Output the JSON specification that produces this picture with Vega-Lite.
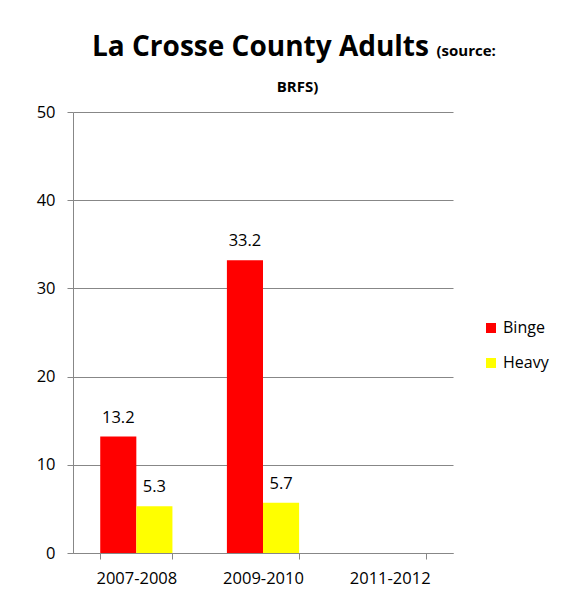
{
  "$schema": "https://vega.github.io/schema/vega-lite/v6.json",
  "width": 380,
  "height": 441,
  "autosize": {"type": "none"},
  "padding": {"left": 73, "top": 112, "right": 108, "bottom": 42},
  "background": "white",
  "config": {
    "font": "Open Sans",
    "view": {"stroke": null}
  },
  "title": {
    "text": "La Crosse County Adults",
    "font": "Open Sans",
    "fontSize": 28,
    "fontWeight": "bold",
    "color": "#000000",
    "anchor": "start",
    "frame": "group",
    "dx": 19,
    "dy": 19,
    "offset": 0
  },
  "data": {
    "values": [
      {"period": "2007-2008", "series": "Binge", "value": 13.2},
      {"period": "2007-2008", "series": "Heavy", "value": 5.3},
      {"period": "2009-2010", "series": "Binge", "value": 33.2},
      {"period": "2009-2010", "series": "Heavy", "value": 5.7}
    ]
  },
  "encoding": {
    "x": {
      "field": "period",
      "type": "nominal",
      "scale": {"domain": ["2007-2008", "2009-2010", "2011-2012"], "paddingInner": 0.43, "paddingOuter": 0.215}
    },
    "xOffset": {"field": "series", "type": "nominal", "scale": {"domain": ["Binge", "Heavy"], "paddingInner": 0, "paddingOuter": 0}},
    "y": {"field": "value", "type": "quantitative", "scale": {"domain": [0, 50], "nice": false}}
  },
  "layer": [
    {
      "mark": {"type": "bar"},
      "encoding": {
        "x": {
          "field": "period",
          "type": "nominal",
          "scale": {"domain": ["2007-2008", "2009-2010", "2011-2012"], "paddingInner": 0.43, "paddingOuter": 0.215},
          "axis": {
            "title": null,
            "orient": "bottom",
            "labelAngle": 0,
            "labelFont": "Open Sans",
            "labelFontSize": 16.5,
            "labelColor": "#000000",
            "labelPadding": 11,
            "domainColor": "#878787",
            "domainWidth": 1,
            "tickColor": "#878787",
            "tickSize": 6,
            "tickBand": "extent",
            "grid": false
          }
        },
        "y": {
          "field": "value",
          "type": "quantitative",
          "scale": {"domain": [0, 50], "nice": false},
          "axis": {
            "title": null,
            "values": [0, 10, 20, 30, 40, 50],
            "labelFont": "Open Sans",
            "labelFontSize": 16.5,
            "labelColor": "#000000",
            "labelPadding": 12,
            "domainColor": "#878787",
            "domainWidth": 1,
            "tickColor": "#878787",
            "tickSize": 6,
            "grid": true,
            "gridColor": "#878787",
            "gridWidth": 1
          }
        },
        "color": {
          "field": "series",
          "type": "nominal",
          "scale": {"domain": ["Binge", "Heavy"], "range": ["#FF0000", "#FFFF00"]},
          "legend": {
            "title": null,
            "orient": "none",
            "legendX": 410,
            "legendY": 208,
            "symbolType": "square",
            "symbolSize": 100,
            "symbolStrokeWidth": 0,
            "labelFont": "Open Sans",
            "labelFontSize": 16,
            "labelColor": "#000000",
            "labelOffset": 4,
            "rowPadding": 19
          }
        }
      }
    },
    {
      "mark": {"type": "text", "baseline": "alphabetic", "dy": -14, "fontSize": 16.5, "font": "Open Sans", "color": "#000000"},
      "encoding": {
        "text": {"field": "value", "type": "quantitative", "format": ".1f"},
        "x": {
          "field": "period",
          "type": "nominal",
          "axis": {
            "orient": "top",
            "title": "BRFS)",
            "labels": false,
            "ticks": false,
            "domain": false,
            "grid": false,
            "titleFont": "Open Sans",
            "titleFontSize": 15,
            "titleFontWeight": "bold",
            "titleColor": "#000000",
            "titleX": 224,
            "titleY": -21,
            "titleAlign": "center",
            "titleBaseline": "alphabetic"
          }
        },
        "y": {
          "field": "value",
          "type": "quantitative",
          "axis": {
            "orient": "right",
            "title": "(source:",
            "labels": false,
            "ticks": false,
            "domain": false,
            "grid": false,
            "titleFont": "Open Sans",
            "titleFontSize": 15,
            "titleFontWeight": "bold",
            "titleColor": "#000000",
            "titleAngle": 0,
            "titleX": -17,
            "titleY": -57,
            "titleAlign": "left",
            "titleBaseline": "alphabetic"
          }
        }
      }
    }
  ],
  "resolve": {"axis": {"x": "independent", "y": "independent"}}
}
